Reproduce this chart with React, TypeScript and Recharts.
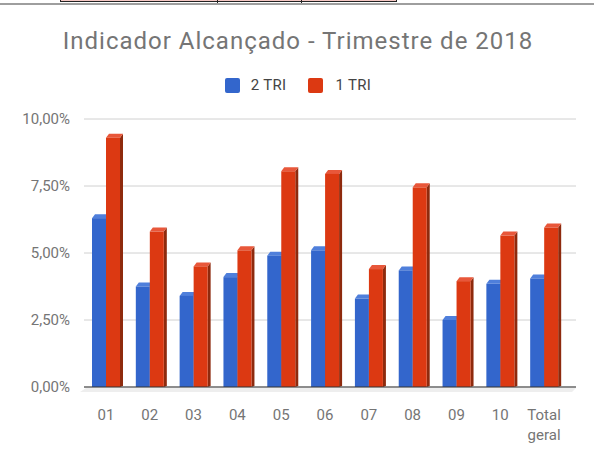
import { BarChart, Bar, XAxis, YAxis, CartesianGrid } from 'recharts'

const categories = ['01', '02', '03', '04', '05', '06', '07', '08', '09', '10', 'Total geral']
const tri2 = [6.3, 3.75, 3.4, 4.1, 4.9, 5.1, 3.3, 4.35, 2.5, 3.85, 4.05]
const tri1 = [9.3, 5.8, 4.5, 5.1, 8.05, 7.95, 4.4, 7.45, 3.95, 5.65, 5.95]
const yTicks = [0, 2.5, 5, 7.5, 10]

const data = categories.map((c, i) => ({ cat: c, tri2: tri2[i], tri1: tri1[i] }))

const FONT = 'Roboto, "Noto Sans", sans-serif'

const shades: Record<string, { top: string; side: string }> = {
  '#3366cc': { top: '#4f7fdb', side: '#23509f' },
  '#dc3912': { top: '#e8573a', side: '#8e2a0d' },
}

function Bar3D(props: any) {
  const { x, y, width, height, fill } = props
  if (!height || height <= 0) return null
  const dx = 3
  const dy = 4
  const s = shades[fill]
  return (
    <g>
      <polygon
        points={`${x + width},${y} ${x + width + dx},${y - dy} ${x + width + dx},${y + height - 1} ${x + width},${y + height}`}
        fill={s.side}
      />
      <polygon
        points={`${x},${y} ${x + dx},${y - dy} ${x + width + dx},${y - dy} ${x + width},${y}`}
        fill={s.top}
      />
      <rect x={x} y={y} width={width} height={height} fill={fill} />
    </g>
  )
}

function CatTick(props: any) {
  const { x, y, payload } = props
  const words = String(payload.value).split(' ')
  return (
    <text x={x} y={y} textAnchor="middle" fill="#757575" fontSize={15} fontFamily={FONT}>
      {words.map((w, i) => (
        <tspan key={w} x={x} dy={i === 0 ? '0.71em' : 20}>
          {w}
        </tspan>
      ))}
    </text>
  )
}

const fmt = (v: number) => v.toFixed(2).replace('.', ',') + '%'

export default function App() {
  return (
    <div style={{ position: 'absolute', left: 0, top: 0, width: 596, height: 463, background: '#fff', fontFamily: FONT }}>
      {/* bit of the spreadsheet table peeking in at the top */}
      <div style={{ position: 'absolute', left: 60, top: -1, width: 337, height: 3, background: '#f4c7c3', border: '1px solid #222', boxSizing: 'border-box' }} />
      <div style={{ position: 'absolute', left: 217, top: 0, width: 1, height: 3, background: '#222' }} />
      <div style={{ position: 'absolute', left: 301, top: 0, width: 1, height: 3, background: '#222' }} />
      <div style={{ position: 'absolute', left: 0, top: 3, width: 594, height: 2, background: '#9e9e9e' }} />
      <div style={{ position: 'absolute', left: 0, top: 27, width: 596, textAlign: 'center', fontSize: 24, letterSpacing: 1, color: '#757575' }}>
        Indicador Alcançado - Trimestre de 2018
      </div>
      <div style={{ position: 'absolute', left: 0, top: 76, width: 596, display: 'flex', justifyContent: 'center', alignItems: 'center', fontSize: 15, letterSpacing: 0.3, color: '#444' }}>
        <span style={{ width: 15, height: 15, borderRadius: 2, background: '#3366cc', display: 'inline-block', marginRight: 11 }} />
        <span style={{ marginRight: 21 }}>2 TRI</span>
        <span style={{ width: 15, height: 15, borderRadius: 2, background: '#dc3912', display: 'inline-block', marginRight: 13 }} />
        <span>1 TRI</span>
      </div>
      <div style={{ position: 'absolute', left: 80, top: 388, width: 496, height: 4, background: '#eeeeee', clipPath: 'polygon(6px 0, 100% 0, calc(100% - 4px) 100%, 0 100%)' }} />
      <BarChart
        width={596}
        height={463}
        data={data}
        margin={{ top: 119, right: 20, bottom: 36, left: 0 }}
        barSize={14}
        barGap={0}
        style={{ position: 'absolute', left: 0, top: 0 }}
      >
        <CartesianGrid vertical={false} stroke="#d0d0d0" strokeWidth={1} />
        <XAxis
          dataKey="cat"
          height={40}
          interval={0}
          padding={{ left: 0, right: 10 }}
          axisLine={{ stroke: '#333', strokeWidth: 1 }}
          tickLine={false}
          tickMargin={16}
          tick={<CatTick />}
        />
        <YAxis
          width={84}
          domain={[0, 10]}
          ticks={yTicks}
          tickFormatter={fmt}
          axisLine={false}
          tickLine={false}
          tickMargin={8}
          tick={{ fontSize: 15, fill: '#757575', fontFamily: FONT }}
        />
        <Bar dataKey="tri2" name="2 TRI" fill="#3366cc" shape={<Bar3D />} isAnimationActive={false} />
        <Bar dataKey="tri1" name="1 TRI" fill="#dc3912" shape={<Bar3D />} isAnimationActive={false} />
      </BarChart>
    </div>
  )
}
